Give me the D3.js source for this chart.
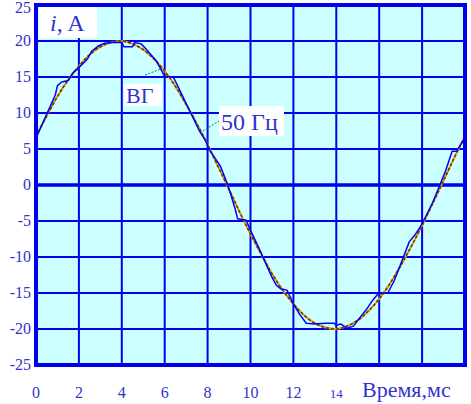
<!DOCTYPE html>
<html><head><meta charset="utf-8">
<script src="https://cdn.jsdelivr.net/npm/d3@7"></script>
<style>body{margin:0;background:#fff}svg{display:block}text{font-family:"Liberation Serif","Times New Roman","DejaVu Serif",serif}</style>
</head><body><svg id="c" width="471" height="404"></svg>
<script>
// time, ms (smooth 50 Hz curve)
const smoothT = [0,0.5,1,1.5,2,2.5,3,3.5,4,4.5,5,5.5,6,6.5,7,7.5,8,8.5,9,9.5,10,10.5,11,11.5,12,12.5,13,13.5,14,14.5,15,15.5,16,16.5,17,17.5,18,18.5,19,19.5,20];
const smoothI = [6.8,9.6,12.3,14.6,16.5,18.1,19.2,19.8,20.0,19.6,18.8,17.5,15.8,13.7,11.2,8.5,5.6,2.5,-0.6,-3.8,-6.8,-9.6,-12.3,-14.6,-16.5,-18.1,-19.2,-19.8,-20.0,-19.6,-18.8,-17.5,-15.8,-13.7,-11.2,-8.5,-5.6,-2.5,0.6,3.8,6.8];
// ВГ curve (generator)
const vgT = [0,0.3,0.6,0.9,1.0,1.2,1.5,1.7,2.0,2.4,2.6,2.9,3.2,3.5,4.0,4.1,4.5,4.6,4.9,5.1,5.3,5.6,5.8,6.0,6.4,6.6,7.0,7.3,7.6,7.9,8.1,8.4,8.6,8.9,9.1,9.3,9.4,9.8,10.0,10.4,10.8,11.0,11.2,11.4,11.7,12.0,12.3,12.6,13.0,13.5,13.9,14.0,14.2,14.5,14.8,15.0,15.4,15.7,15.95,16.4,16.7,17.0,17.4,17.7,17.9,18.2,18.5,18.8,19.1,19.4,19.6,20.0];
const vgI = [6.5,8.5,10.5,12.5,13.8,14.3,14.5,15.5,16.3,17.5,18.6,19.3,19.7,19.8,19.8,19.2,19.2,19.8,19.6,19.0,18.3,17.3,16.2,15.1,15.0,13.8,11.3,9.5,7.6,6.2,4.8,3.5,2.6,0.3,-1.5,-3.5,-4.7,-4.9,-6.3,-8.8,-11.5,-12.8,-13.9,-14.4,-14.6,-16.5,-18.0,-19.2,-19.3,-19.2,-19.2,-19.5,-19.3,-19.9,-19.6,-18.8,-17.3,-16.0,-15.1,-15.0,-13.3,-11.0,-7.9,-6.8,-5.9,-4.2,-2.4,-0.2,2.0,4.7,4.7,6.5];
const xTicks = [0,2,4,6,8,10,12,14];
const xGrid = [2,4,6,8,10,12,14,16,18];
const yTicks = [25,20,15,10,5,0,-5,-10,-15,-20,-25];

const svg = d3.select('#c');
const L=36,R=465,T=5,B=365;
const x = d3.scaleLinear().domain([0,20]).range([L,R]);
const y = d3.scaleLinear().domain([-25,25]).range([B,T]);
const blue='#0000ee', txt='#3333cc';

svg.append('rect').attr('x',L).attr('y',T).attr('width',R-L).attr('height',B-T).attr('fill','#ccffff');
svg.append('g').selectAll('line').data(xGrid).join('line')
  .attr('x1',d=>x(d)).attr('x2',d=>x(d)).attr('y1',T).attr('y2',B)
  .attr('stroke',blue).attr('stroke-width',2);
svg.append('g').selectAll('line').data(yTicks.filter(d=>d!==25&&d!==-25)).join('line')
  .attr('x1',L).attr('x2',R).attr('y1',d=>y(d)).attr('y2',d=>y(d))
  .attr('stroke',blue).attr('stroke-width',d=>d===0?3.5:2);

// curves
const lineS = d3.line().x((d,i)=>x(smoothT[i])).y(d=>y(d)).curve(d3.curveCatmullRom);
svg.append('path').datum(smoothI).attr('d',lineS).attr('fill','none').attr('stroke','#c8b400').attr('stroke-width',2);
svg.append('path').datum(smoothI).attr('d',lineS).attr('fill','none').attr('stroke','#8b2a10').attr('stroke-width',1.6).attr('stroke-dasharray','3,2');
const lineV = d3.line().x((d,i)=>x(vgT[i])).y(d=>y(d));
svg.append('path').datum(vgI).attr('d',lineV).attr('fill','none').attr('stroke','#0000ff').attr('stroke-width',1.5).attr('stroke-linejoin','round');

// frame
svg.append('rect').attr('x',L).attr('y',T).attr('width',R-L).attr('height',B-T)
  .attr('fill','none').attr('stroke',blue).attr('stroke-width',4);

// y tick labels
svg.append('g').selectAll('text').data(yTicks).join('text')
  .attr('x',31).attr('y',d=>Math.max(y(d)+5,13)).attr('text-anchor','end')
  .attr('font-size',16).attr('fill',txt).text(d=>d);
// x tick labels
svg.append('g').selectAll('text').data(xTicks).join('text')
  .attr('x',d=>x(d)).attr('y',398).attr('text-anchor','middle')
  .attr('font-size',d=>d===14?13:16).attr('fill',txt).text(d=>d);
svg.append('text').attr('x',362).attr('y',397).attr('font-size',22).attr('fill',txt).text('Время,мс');

// labels with white boxes
function boxLabel(bx,by,bw,bh){svg.append('rect').attr('x',bx).attr('y',by).attr('width',bw).attr('height',bh).attr('fill','#fff');}
boxLabel(39,7,58,31);
const ia = svg.append('text').attr('x',50).attr('y',31).attr('font-size',24).attr('fill',txt);
ia.append('tspan').attr('font-style','italic').text('i');
ia.append('tspan').text(', A');

svg.append('line').attr('x1',145).attr('y1',75).attr('x2',161).attr('y2',69).attr('stroke','#008080').attr('stroke-dasharray','2,1.5');
boxLabel(124,84,38,22);
svg.append('text').attr('x',126).attr('y',103).attr('font-size',22).attr('fill',txt).text('ВГ');

svg.append('line').attr('x1',203).attr('y1',131).attr('x2',219).attr('y2',121).attr('stroke','#008080').attr('stroke-dasharray','2,1.5');
boxLabel(219,106,65,30);
svg.append('text').attr('x',221).attr('y',130).attr('font-size',24).attr('fill',txt).text('50 Гц');
</script></body></html>
